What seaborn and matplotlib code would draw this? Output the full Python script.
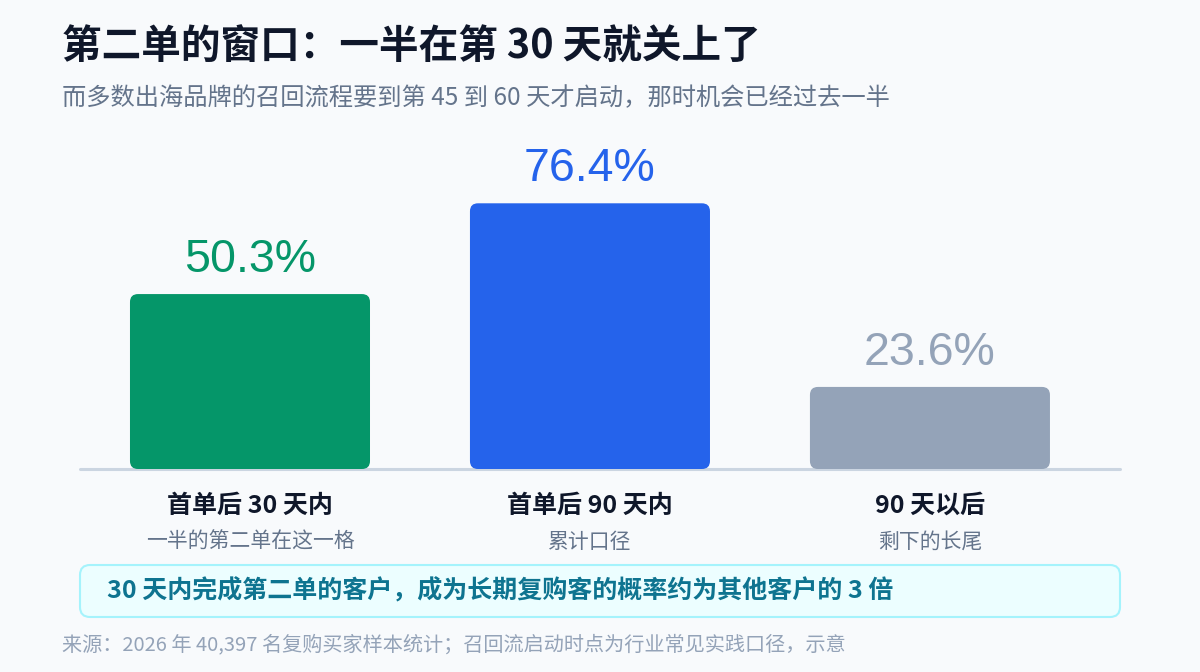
import seaborn as sns
import matplotlib.pyplot as plt
import pandas as pd
from matplotlib.patches import FancyBboxPatch

# data
categories = ["首单后 30 天内", "首单后 90 天内", "90 天以后"]
sublabels = ["一半的第二单在这一格", "累计口径", "剩下的长尾"]
share = [50.3, 76.4, 23.6]
colors = ["#059669", "#2563EB", "#94A3B8"]

title = "第二单的窗口：一半在第 30 天就关上了"
subtitle = "而多数出海品牌的召回流程要到第 45 到 60 天才启动，那时机会已经过去一半"
callout = "30 天内完成第二单的客户，成为长期复购客的概率约为其他客户的 3 倍"
source = "来源：2026 年 40,397 名复购买家样本统计；召回流启动时点为行业常见实践口径，示意"

df = pd.DataFrame({"cat": categories, "share": share})

sns.set_theme(style="white")
plt.rcParams["font.family"] = ["Noto Sans CJK SC", "DejaVu Sans"]
BG = "#F8FAFC"

W, H = 1200, 672
fig = plt.figure(figsize=(12, 6.72), dpi=100, facecolor=BG)

# chart area: x 80..1120 px, y 140..469 px
ax = fig.add_axes([80 / W, 1 - 469 / H, 1040 / W, (469 - 140) / H])
ax.set_facecolor("none")
sns.barplot(data=df, x="cat", y="share", hue="cat", palette=colors,
            width=0.706, legend=False, ax=ax, saturation=1)
ax.set_xlim(-0.5, 2.559)
ax.set_ylim(0, 94.6)
for s in ax.spines.values():
    s.set_visible(False)
ax.set_xticks([])
ax.set_yticks([])
ax.set_xlabel("")
ax.set_ylabel("")
ax.axhline(0, color="#CBD5E1", lw=2.2, zorder=1, clip_on=False)

# rounded bars
fig.canvas.draw()
p0 = ax.transData.transform((0, 0))
p1 = ax.transData.transform((1, 1))
aspect = (p1[0] - p0[0]) / (p1[1] - p0[1])
rad = 8 / (p1[0] - p0[0])
for bar, c in zip(list(ax.patches), colors):
    x, y = bar.get_x(), bar.get_y()
    w, h = bar.get_width(), bar.get_height()
    bar.remove()
    ax.add_patch(FancyBboxPatch((x, y), w, h,
                                boxstyle=f"round,pad=0,rounding_size={rad}",
                                mutation_aspect=aspect, fc=c, ec="none", zorder=2))

# value labels and category labels
for i, (v, c) in enumerate(zip(share, colors)):
    ax.annotate(f"{v:.1f}%", xy=(i, v), xytext=(0, 22), textcoords="offset pixels",
                ha="center", va="baseline", color=c, fontsize=33.5,
                family=["Liberation Sans", "DejaVu Sans"])
    ax.annotate(categories[i], xy=(i, 0), xytext=(0, -37), textcoords="offset pixels",
                ha="center", va="center", color="#0F172A", fontsize=18, fontweight="bold")
    ax.annotate(sublabels[i], xy=(i, 0), xytext=(0, -73), textcoords="offset pixels",
                ha="center", va="center", color="#64748B", fontsize=15)

# page overlay in pixel coordinates
pg = fig.add_axes([0, 0, 1, 1], zorder=-1)
pg.set_xlim(0, W)
pg.set_ylim(H, 0)
pg.axis("off")
pg.text(62, 47, title, fontsize=28.5, fontweight="bold", color="#0F172A", va="center")
pg.text(62, 98, subtitle, fontsize=17.5, color="#64748B", va="center")
pg.add_patch(FancyBboxPatch((80, 565), 1040, 52, boxstyle="round,pad=0,rounding_size=10",
                            fc="#ECFEFF", ec="#A5F3FC", lw=1.5))
pg.text(107, 591, callout, fontsize=18, fontweight="bold", color="#0E7490", va="center")
pg.text(62, 645, source, fontsize=14.5, color="#94A3B8", va="center")

fig.savefig("out.png", dpi=100, facecolor=BG)
